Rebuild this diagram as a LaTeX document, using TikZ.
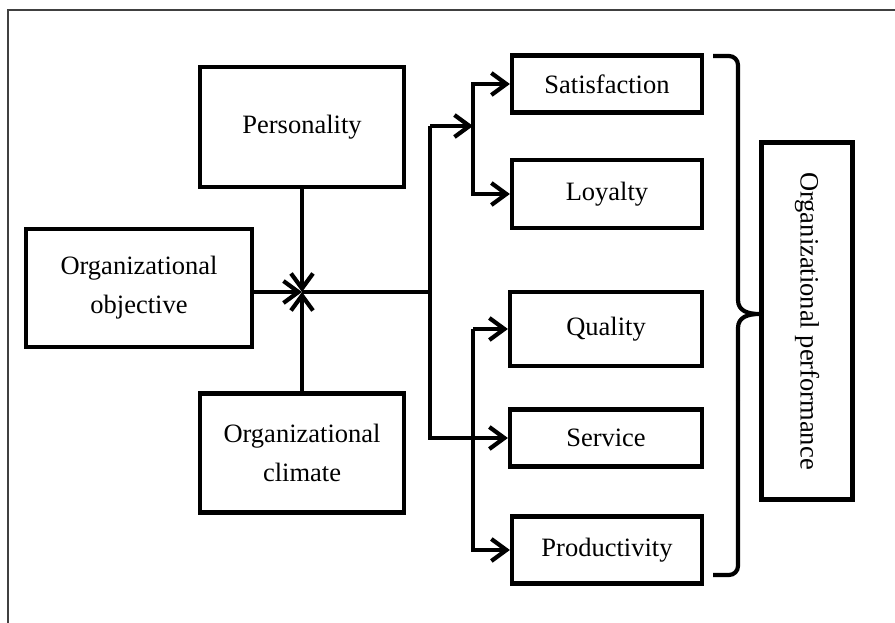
\documentclass[tikz,border=0pt]{standalone}
\usepackage{fontspec}
\setmainfont{Liberation Serif}
\usetikzlibrary{arrows.meta}

\begin{document}
\begin{tikzpicture}[x=1pt, y=-1pt,
	box/.style={draw, line width=4.2pt, align=center, inner sep=0pt, font=\fontsize{26.5}{39}\selectfont},
	arr/.style={line width=4.2pt, line join=miter, -{Straight Barb[length=15pt, width=22pt, line width=4.2pt]}},
	bus/.style={line width=4.2pt}]
	\useasboundingbox (0,0) rectangle (895,623);
	\draw[line width=1.4pt, black!75] (8,623) -- (8,10) -- (895,10);
	% inputs
	\node[box, minimum width=204, minimum height=120] (pers) at (302,127) {Personality};
	\node[box, minimum width=226, minimum height=118] (obj) at (139,288) {Organizational\\objective};
	\node[box, minimum width=204, minimum height=119] (clim) at (302,453) {Organizational\\climate};
	\coordinate (j) at (302,292);
	% outcomes
	\node[box, minimum width=190, minimum height=57] (sat) at (607,84) {Satisfaction};
	\node[box, minimum width=190, minimum height=68] (loy) at (607,194) {Loyalty};
	\node[box, minimum width=192, minimum height=74] (qual) at (606,329) {Quality};
	\node[box, minimum width=192, minimum height=57] (serv) at (606,438) {Service};
	\node[box, minimum width=190, minimum height=67] (prod) at (607,550) {Productivity};
	\node[box, rotate=-90, minimum width=357, minimum height=91] (perf) at (807,321) {Organizational performance};
	% connectors
	\draw[arr] (pers.south) -- (j);
	\draw[arr] (clim.north) -- (j);
	\draw[arr] (obj.east |- j) -- (j);
	\coordinate (mid) at (430,292);
	\coordinate (s1) at (473,126);
	\coordinate (s2) at (s1 |- qual.west);
	\draw[bus] (j) -- (mid);
	\draw[arr] (s1 -| mid) -- (s1);
	\draw[arr] (s1 -| mid) |- (serv.west);
	\draw[arr] (s1) |- (sat.west);
	\draw[arr] (s1) |- (loy.west);
	\draw[arr] (s2) -- (qual.west);
	\draw[arr] (s2) |- (prod.west);
	% brace towards the performance box
	\coordinate (tip) at (perf.south |- 0,314);
	\draw[bus, rounded corners=9pt] (713,56) -- (738,56) -- (738,200);
	\draw[bus, rounded corners=9pt] (713,575) -- (738,575) -- (738,400);
	\draw[bus] (738,200) -- (738,300) .. controls (738,311) and (748,314) .. (tip)
		.. controls (748,314) and (738,317) .. (738,328) -- (738,400);
\end{tikzpicture}
\end{document}
